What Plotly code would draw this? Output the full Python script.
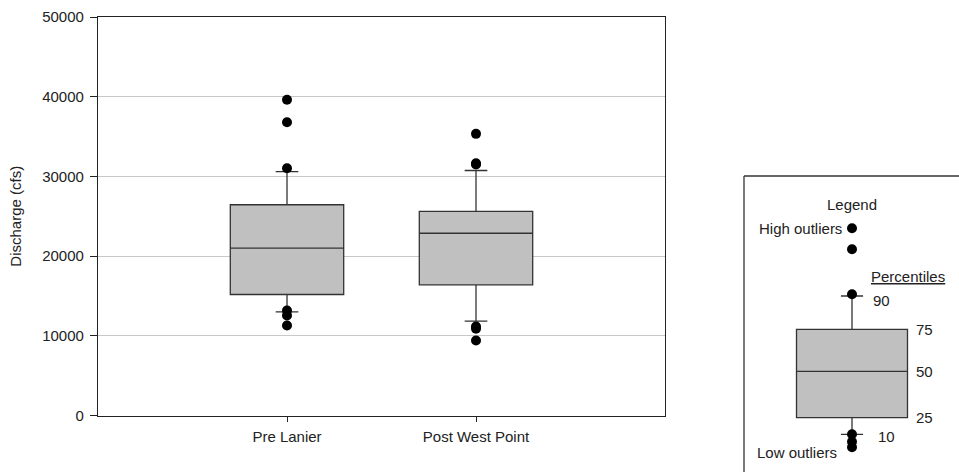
import plotly.graph_objects as go

# ---- data ----
categories = ["Pre Lanier", "Post West Point"]
cat_pos = [1, 2]
p10 = [13010, 11830]
q1 = [15180, 16400]
median = [20990, 22870]
q3 = [26440, 25600]
p90 = [30610, 30740]
outliers_pre = [39610, 36800, 31030, 13170, 12550, 11290]
outliers_post = [35340, 31650, 31490, 11170, 10900, 9410]
y_ticks = [0, 10000, 20000, 30000, 40000, 50000]

# legend key: illustrative values on its own small scale
leg_pos = 108
leg_p10, leg_q1, leg_med, leg_q3, leg_p90 = 37.7, 54.3, 100.7, 142.7, 176.0
leg_high = [243.7, 222.7, 177.7]
leg_low = [37.7, 30.3, 24.7]

W, H = 959, 472
FONT = "Liberation Sans, Arial, sans-serif"
TXT = "#222222"
FS = 15

fig = go.Figure()

for i in range(2):
    fig.add_trace(go.Box(
        x=[cat_pos[i]], q1=[q1[i]], median=[median[i]], q3=[q3[i]],
        lowerfence=[p10[i]], upperfence=[p90[i]],
        width=0.6, whiskerwidth=0.2, boxpoints=False,
        fillcolor="#c0c0c0", line=dict(color="#333333", width=1.3),
        xaxis="x", yaxis="y", showlegend=False, hoverinfo="skip"))

fig.add_trace(go.Scatter(
    x=[cat_pos[0]] * len(outliers_pre) + [cat_pos[1]] * len(outliers_post),
    y=outliers_pre + outliers_post, mode="markers",
    marker=dict(color="black", size=10), showlegend=False, hoverinfo="skip",
    xaxis="x", yaxis="y", cliponaxis=False))

# legend key box
fig.add_trace(go.Box(
    x=[leg_pos], q1=[leg_q1], median=[leg_med], q3=[leg_q3],
    lowerfence=[leg_p10], upperfence=[leg_p90],
    width=111, whiskerwidth=0.2, boxpoints=False,
    fillcolor="#c0c0c0", line=dict(color="#333333", width=1.3),
    xaxis="x2", yaxis="y2", showlegend=False, hoverinfo="skip"))
fig.add_trace(go.Scatter(
    x=[leg_pos] * (len(leg_high) + len(leg_low)), y=leg_high + leg_low,
    mode="markers", marker=dict(color="black", size=10),
    xaxis="x2", yaxis="y2", showlegend=False, hoverinfo="skip", cliponaxis=False))

x0d, x1d = 98 / W, 665 / W
y0d, y1d = (H - 415.5) / H, (H - 17) / H

fig.update_layout(
    width=W, height=H, margin=dict(l=0, r=0, t=0, b=0),
    paper_bgcolor="white", plot_bgcolor="white",
    font=dict(family=FONT, size=FS, color=TXT),
    xaxis=dict(domain=[x0d, x1d], range=[0, 3], tickvals=cat_pos, ticktext=categories,
               ticks="outside", ticklen=5, tickcolor="#222", showline=True, mirror=True,
               linecolor="#222", linewidth=1.3, showgrid=False, zeroline=False,
               automargin=False, fixedrange=True, ticklabelstandoff=2),
    yaxis=dict(domain=[y0d, y1d], range=[0, 50000], tickvals=y_ticks, tickformat="d",
               ticks="outside", ticklen=7, tickcolor="#222", showline=True, mirror=True,
               linecolor="#222", linewidth=1.3, showgrid=True, gridcolor="#c8c8c8",
               gridwidth=1, zeroline=False, automargin=False, ticklabelstandoff=3,
               title=dict(text="Discharge (cfs)", standoff=16, font=dict(size=FS)),
               fixedrange=True),
    xaxis2=dict(domain=[744 / W, 1], range=[0, 215], visible=False, fixedrange=True),
    yaxis2=dict(domain=[0, (H - 176) / H], range=[0, 296], visible=False, fixedrange=True),
)

fig.add_shape(type="line", xref="x2 domain", yref="y2 domain", x0=0, x1=0, y0=0, y1=1,
              line=dict(color="#333333", width=1.3))
fig.add_shape(type="line", xref="x2 domain", yref="y2 domain", x0=0, x1=1, y0=1, y1=1,
              line=dict(color="#333333", width=1.3))

def ann(text, x, y, xanchor):
    fig.add_annotation(text=text, x=x, y=y, xref="x2", yref="y2", showarrow=False,
                       xanchor=xanchor, yanchor="middle", font=dict(size=FS, color=TXT))

ann("Legend", leg_pos, 268, "center")
ann("High outliers", 100, leg_high[0], "right")
ann("<u>Percentiles</u>", 125, 196, "left")
ann("90", 127, leg_p90 - 4, "left")
ann("75", 170, leg_q3, "left")
ann("50", 170, leg_med, "left")
ann("25", 170, leg_q1, "left")
ann("10", 132, leg_p10 - 2, "left")
ann("Low outliers", 95, 19.3, "right")

fig.write_html("out.html", config={"displayModeBar": False},
               post_script="document.body.style.margin='0';document.body.style.padding='0';")
